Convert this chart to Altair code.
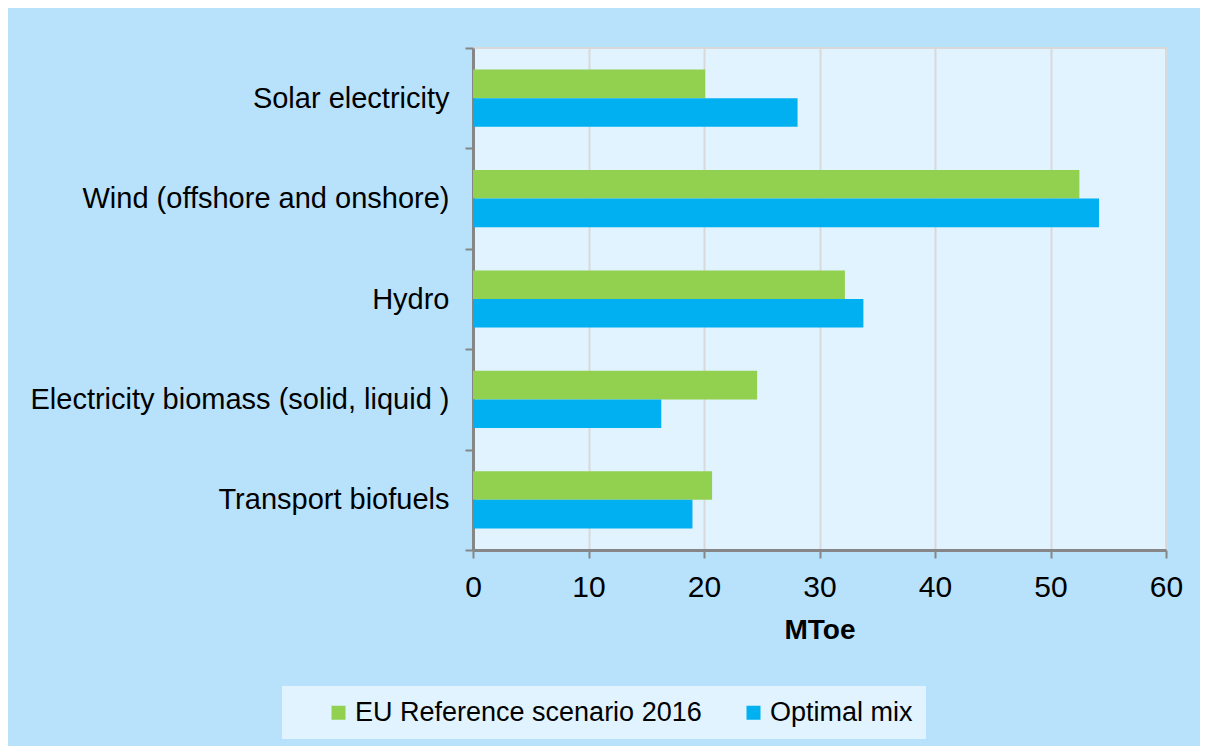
import altair as alt
import pandas as pd

categories = [
    "Solar electricity",
    "Wind (offshore and onshore)",
    "Hydro",
    "Electricity biomass (solid, liquid )",
    "Transport biofuels",
]
series = ["EU Reference scenario 2016", "Optimal mix"]
eu_reference = [20.1, 52.5, 32.2, 24.6, 20.7]
optimal_mix = [28.1, 54.2, 33.8, 16.3, 19.0]
x_ticks = [0, 10, 20, 30, 40, 50, 60]
colors = ["#92d050", "#00b0f0"]

rows = []
for c, a, b in zip(categories, eu_reference, optimal_mix):
    rows.append({"category": c, "series": series[0], "value": a})
    rows.append({"category": c, "series": series[1], "value": b})
df = pd.DataFrame(rows)

FONT = "Liberation Sans"

chart = (
    alt.Chart(df)
    .mark_bar()
    .encode(
        y=alt.Y(
            "category:N",
            sort=categories,
            title=None,
            scale=alt.Scale(paddingInner=0, paddingOuter=0),
            axis=alt.Axis(
                labelFontSize=29,
                labelFont=FONT,
                labelColor="#000000",
                labelPadding=16,
                labelLimit=600,
                tickSize=8,
                tickWidth=2,
                tickColor="#868686",
                domainColor="#868686",
                domainWidth=3,
                tickBand="extent",
                grid=False,
            ),
        ),
        yOffset=alt.YOffset(
            "series:N",
            sort=series,
            scale=alt.Scale(paddingInner=0, paddingOuter=0.755),
        ),
        x=alt.X(
            "value:Q",
            title="MToe",
            scale=alt.Scale(domain=[0, 60], nice=False),
            axis=alt.Axis(
                values=x_ticks,
                labelFontSize=30,
                labelFont=FONT,
                labelColor="#000000",
                labelPadding=14,
                labelFlush=False,
                tickSize=8,
                tickWidth=2,
                tickColor="#868686",
                domainColor="#868686",
                domainWidth=3,
                grid=True,
                gridColor="#d9d9d9",
                gridWidth=2,
                titleFont=FONT,
                titleFontSize=28,
                titleFontWeight="bold",
                titleColor="#000000",
                titlePadding=14,
            ),
        ),
        color=alt.Color(
            "series:N",
            sort=series,
            scale=alt.Scale(domain=series, range=colors),
            legend=alt.Legend(
                title=None,
                orient="none",
                legendX=-191,
                legendY=638,
                direction="horizontal",
                fillColor="#e1f3fe",
                padding=13,
                symbolType="square",
                symbolSize=196,
                symbolStrokeWidth=0,
                symbolOffset=30,
                columnPadding=8,
                labelFontSize=27,
                labelFont=FONT,
                labelColor="#000000",
                labelOffset=3,
                labelLimit=600,
            ),
        ),
    )
    .properties(
        width=693,
        height=502,
        autosize=alt.AutoSizeParams(type="none"),
        padding={"left": 465, "top": 40, "right": 34, "bottom": 196},
        background="#b8e2fc",
    )
    .configure_view(fill="#e1f3fe", stroke="#d9d9d9", strokeWidth=2)
)

chart.save("out.html", embed_options={"renderer": "svg", "actions": False})
